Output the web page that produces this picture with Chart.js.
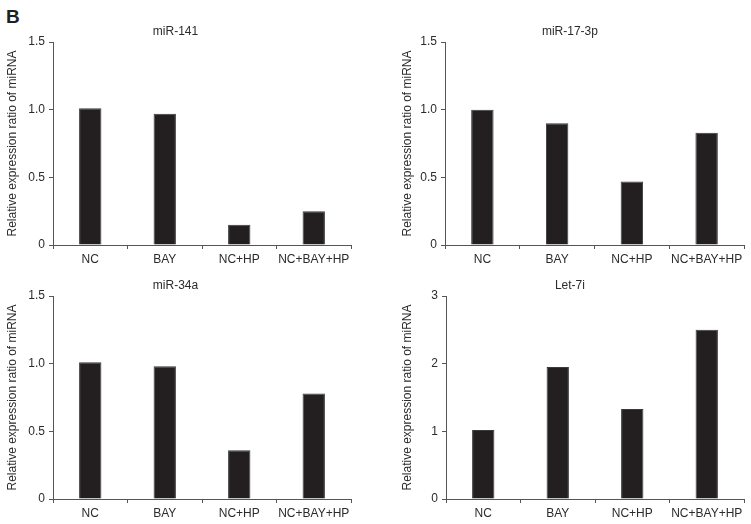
<!DOCTYPE html>
<html lang="en">
<head>
    <meta charset="UTF-8">
    <title>Relative expression ratio of miRNA</title>
    <script src="https://cdn.jsdelivr.net/npm/chart.js"></script>
    <style>
        body { margin: 0; background: #fff; width: 751px; height: 524px; position: relative; overflow: hidden; }
        canvas { position: absolute; }
        .panel-letter {
            position: absolute; left: 6px; top: 6px;
            font: bold 19px "Liberation Sans", Arial, sans-serif; color: #231f20;
        }
    </style>
</head>
<body>
    <div class="panel-letter">B</div>
    <canvas id="c141"></canvas>
    <canvas id="c17"></canvas>
    <canvas id="c34a"></canvas>
    <canvas id="clet7i"></canvas>

    <script>
        // Data
        const categories = ['NC', 'BAY', 'NC+HP', 'NC+BAY+HP'];
        const mir141 = [1.01, 0.97, 0.15, 0.25];
        const mir17_3p = [1.00, 0.90, 0.47, 0.83];
        const mir34a = [1.01, 0.98, 0.36, 0.78];
        const let7i = [1.02, 1.95, 1.33, 2.50];

        const yTitle = 'Relative expression ratio of miRNA';
        const fontFamily = '"Liberation Sans", Arial, sans-serif';
        const textColor = '#2b2b2b';
        const axisColor = '#555';

        // Draw one panel; canvas box and plot box given in page pixels
        function makePanel(id, title, values, yMax, yStep, box, plot, titleY, yTitleX) {
            const canvas = document.getElementById(id);
            canvas.width = box.w;
            canvas.height = box.h;
            canvas.style.left = box.x + 'px';
            canvas.style.top = box.y + 'px';

            const padLeft = Math.max(0, yTitleX - 12.2 - box.x);
            const yWidth = plot.L - box.x - padLeft;
            const padRight = box.x + box.w - plot.R;
            const padTop = titleY - 7.2 - box.y;
            const titleGap = plot.T - (titleY + 7.2);
            const xHeight = box.y + box.h - plot.B;

            new Chart(canvas.getContext('2d'), {
                type: 'bar',
                data: {
                    labels: categories,
                    datasets: [{
                        data: values,
                        backgroundColor: '#231f20',
                        borderColor: '#3a3a3a',
                        borderWidth: 1,
                        barPercentage: 0.3,
                        categoryPercentage: 1
                    }]
                },
                options: {
                    responsive: false,
                    animation: false,
                    layout: { padding: { left: padLeft, right: padRight, top: padTop, bottom: 0 } },
                    plugins: {
                        legend: { display: false },
                        tooltip: { enabled: false },
                        title: {
                            display: true,
                            text: title,
                            color: textColor,
                            font: { family: fontFamily, size: 12, weight: 'normal', lineHeight: 1.2 },
                            padding: { top: 0, bottom: titleGap }
                        }
                    },
                    scales: {
                        x: {
                            afterFit: s => { s.height = xHeight; },
                            grid: { drawOnChartArea: false, offset: true, tickLength: 4, color: axisColor },
                            border: { color: axisColor },
                            ticks: { color: textColor, padding: 3, maxRotation: 0, autoSkip: false,
                                     font: { family: fontFamily, size: 12 } }
                        },
                        y: {
                            min: 0,
                            max: yMax,
                            afterFit: s => { s.width = yWidth; },
                            grid: { drawOnChartArea: false, tickLength: 4, color: axisColor },
                            border: { color: axisColor },
                            ticks: {
                                stepSize: yStep,
                                padding: 4,
                                color: textColor,
                                font: { family: fontFamily, size: 12 },
                                callback: v => (v === 0 ? '0' : (yStep < 1 ? v.toFixed(1) : String(v)))
                            },
                            title: {
                                display: true,
                                text: yTitle,
                                color: textColor,
                                font: { family: fontFamily, size: 12, lineHeight: 1.2 },
                                padding: { top: 5, bottom: 0 }
                            }
                        }
                    }
                }
            });
        }

        makePanel('c141', 'miR-141', mir141, 1.5, 0.5,
            { x: 0, y: 0, w: 375, h: 280 }, { L: 53, R: 351, T: 42, B: 245 }, 32, 12);
        makePanel('c17', 'miR-17-3p', mir17_3p, 1.5, 0.5,
            { x: 375, y: 0, w: 376, h: 280 }, { L: 445, R: 744, T: 42, B: 245 }, 32, 408);
        makePanel('c34a', 'miR-34a', mir34a, 1.5, 0.5,
            { x: 0, y: 270, w: 375, h: 254 }, { L: 53, R: 351, T: 296, B: 499 }, 286, 12);
        makePanel('clet7i', 'Let-7i', let7i, 3, 1,
            { x: 375, y: 270, w: 376, h: 254 }, { L: 446, R: 744, T: 296, B: 499 }, 286, 408);
    </script>
</body>
</html>
